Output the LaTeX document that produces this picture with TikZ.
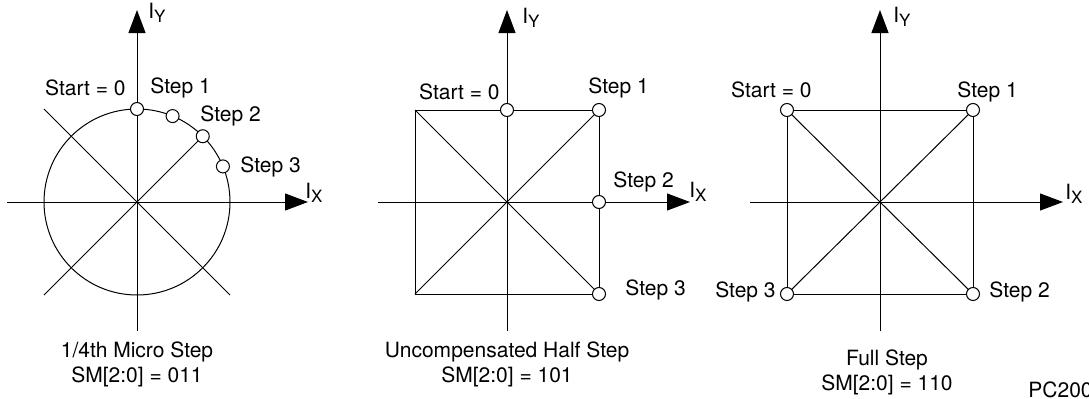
\documentclass[tikz,border=0pt]{standalone}
\usepackage{fontspec}
\setmainfont{TeX Gyre Heros}
\usetikzlibrary{arrows.meta}

\newcommand{\axsub}[1]{\raisebox{-0.4ex}{\fontsize{8.5}{9}\selectfont #1}}

\begin{document}
\begin{tikzpicture}[
    x=0.5pt, y=0.5pt,
    % --- Line styles ---
    axis/.style={-{Triangle[length=11.5pt, width=8.5pt]}, line width=0.5pt},
    vec/.style={line width=0.5pt},
    % --- Markers and texts ---
    stepdot/.style={circle, draw, line width=0.5pt, fill=white,
        inner sep=0pt, minimum size=6.5pt},
    lbl/.style={font=\fontsize{10.5}{12.5}\selectfont, inner sep=0pt},
    axlbl/.style={lbl, anchor=base west},
    caption/.style={lbl, align=center},
]
\useasboundingbox (0,0) rectangle (1089,398);

% =============================================
%  PANEL 1: 1/4th micro step
% =============================================
\begin{scope}[shift={(137,196)}]
    \coordinate (p1yb) at (0,-129);  \coordinate (p1yt) at (0,192);
    \coordinate (p1xl) at (-130,0);  \coordinate (p1xr) at (171,0);
    \draw[vec] (0,0) circle[radius=93];
    \draw[vec] (-93,93) -- (93,-93);
    \draw[vec] (-93,-93) -- (45:93);
    \draw[axis] (p1yb) -- (p1yt);
    \draw[axis] (p1xl) -- (p1xr);
    \node[axlbl] (p1iy) at (11,184) {I\axsub{Y}};
    \node[axlbl] (p1ix) at (168,4) {I\axsub{X}};
    % step points
    \node[stepdot] (p1s0) at (90:93) {};
    \node[stepdot] (p1s1) at (67.5:93) {};
    \node[stepdot] (p1s2) at (45:93) {};
    \node[stepdot] (p1s3) at (22.5:93) {};
    \node[lbl, anchor=base east] (p1l0) at (-11,107) {Start = 0};
    \node[lbl, anchor=base west] (p1l1) at (13,109) {Step 1};
    \node[lbl, anchor=base west] (p1l2) at (63,81) {Step 2};
    \node[lbl, anchor=base west] (p1l3) at (103,30) {Step 3};
\end{scope}

% =============================================
%  PANEL 2: uncompensated half step
% =============================================
\begin{scope}[shift={(507,196)}]
    \coordinate (p2yb) at (0,-129);  \coordinate (p2yt) at (0,192);
    \coordinate (p2xl) at (-129,0);  \coordinate (p2xr) at (183,0);
    \draw[vec] (-92,-92) rectangle (92,92);
    \draw[vec] (-92,92) -- (92,-92);
    \draw[vec] (-92,-92) -- (92,92);
    \draw[axis] (p2yb) -- (p2yt);
    \draw[axis] (p2xl) -- (p2xr);
    \node[axlbl] (p2iy) at (15,179) {I\axsub{Y}};
    \node[axlbl] (p2ix) at (182,5) {I\axsub{X}};
    % step points
    \node[stepdot] (p2s0) at (0,92) {};
    \node[stepdot] (p2s1) at (92,92) {};
    \node[stepdot] (p2s2) at (92,0) {};
    \node[stepdot] (p2s3) at (92,-92) {};
    \node[lbl, anchor=base east] (p2l0) at (-7,103) {Start = 0};
    \node[lbl, anchor=base west] (p2l1) at (81,109) {Step 1};
    \node[lbl, anchor=base west] (p2l2) at (106,15) {Step 2};
    \node[lbl, anchor=base west] (p2l3) at (118,-93) {Step 3};
\end{scope}

% =============================================
%  PANEL 3: full step
% =============================================
\begin{scope}[shift={(880,196)}]
    \coordinate (p3yb) at (0,-129);  \coordinate (p3yt) at (0,192);
    \coordinate (p3xl) at (-130,0);  \coordinate (p3xr) at (183,0);
    \draw[vec] (-93,-92) rectangle (93,92);
    \draw[vec] (-93,92) -- (93,-92);
    \draw[vec] (-93,-92) -- (93,92);
    \draw[axis] (p3yb) -- (p3yt);
    \draw[axis] (p3xl) -- (p3xr);
    \node[axlbl] (p3iy) at (13,180) {I\axsub{Y}};
    \node[axlbl] (p3ix) at (185,3) {I\axsub{X}};
    % step points
    \node[stepdot] (p3s0) at (-93,92) {};
    \node[stepdot] (p3s1) at (93,92) {};
    \node[stepdot] (p3s2) at (93,-92) {};
    \node[stepdot] (p3s3) at (-93,-92) {};
    \node[lbl, anchor=base east] (p3l0) at (-68,105) {Start = 0};
    \node[lbl, anchor=base west] (p3l1) at (77,105) {Step 1};
    \node[lbl, anchor=base west] (p3l2) at (109,-95) {Step 2};
    \node[lbl, anchor=base east] (p3l3) at (-104,-95) {Step 3};
\end{scope}

% =============================================
%  Captions
% =============================================
\node[caption] (cap1) at (137,33.5) {1/4th Micro Step\\SM[2:0] = 011};
\node[caption] (cap2) at (507,34) {Uncompensated Half Step\\SM[2:0] = 101};
\node[caption] (cap3) at (887,26) {Full Step\\SM[2:0] = 110};
\node[lbl, anchor=base west] (fig) at (1028,1) {PC200};

\end{tikzpicture}
\end{document}
